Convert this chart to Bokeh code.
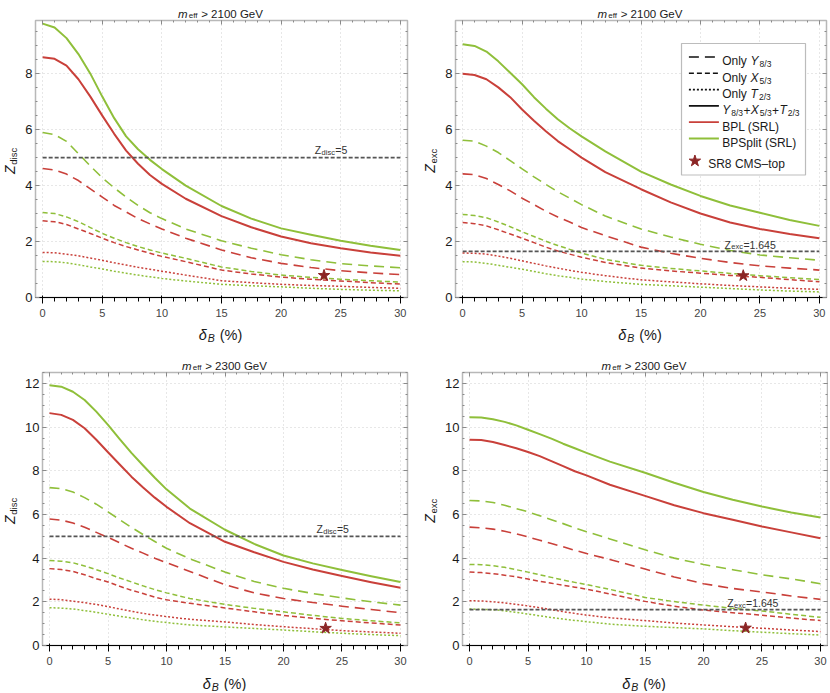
import math
from bokeh.plotting import figure
from bokeh.layouts import row, column
from bokeh.models import (Label, Arrow, BoxAnnotation, LinearAxis, Range1d,
                          SingleIntervalTicker, CustomJSTickFormatter)
from bokeh.embed import file_html
from bokeh.resources import INLINE

# ---------------- data ----------------
delta_B = [0, 1, 2, 3, 4, 5, 6, 7, 8, 9, 10, 12, 15, 17.5, 20, 22.5, 25, 27.5, 30]

# m_eff > 2100 GeV, Z_disc
disc2100_BPL_all = [8.59, 8.53, 8.29, 7.80, 7.18, 6.50, 5.85, 5.25, 4.78, 4.38, 4.06, 3.53, 2.91, 2.51, 2.18, 1.94, 1.76, 1.61, 1.49]
disc2100_BPS_all = [9.79, 9.65, 9.27, 8.70, 8.00, 7.18, 6.41, 5.76, 5.30, 4.92, 4.59, 4.00, 3.27, 2.82, 2.47, 2.24, 2.03, 1.85, 1.70]
disc2100_BPL_Y = [4.61, 4.56, 4.41, 4.18, 3.88, 3.59, 3.29, 3.06, 2.82, 2.63, 2.45, 2.12, 1.70, 1.42, 1.22, 1.07, 0.96, 0.88, 0.82]
disc2100_BPS_Y = [5.90, 5.82, 5.58, 5.14, 4.70, 4.28, 3.92, 3.59, 3.29, 3.03, 2.82, 2.45, 2.03, 1.76, 1.53, 1.35, 1.21, 1.13, 1.06]
disc2100_BPL_X = [2.74, 2.71, 2.61, 2.45, 2.29, 2.12, 1.96, 1.82, 1.70, 1.58, 1.47, 1.28, 0.98, 0.84, 0.73, 0.65, 0.59, 0.53, 0.48]
disc2100_BPS_X = [3.04, 3.00, 2.88, 2.71, 2.50, 2.29, 2.12, 1.96, 1.82, 1.70, 1.59, 1.40, 1.09, 0.93, 0.80, 0.72, 0.65, 0.60, 0.55]
disc2100_BPL_T = [1.61, 1.60, 1.55, 1.49, 1.41, 1.33, 1.24, 1.16, 1.08, 1.01, 0.94, 0.80, 0.60, 0.53, 0.47, 0.43, 0.40, 0.36, 0.33]
disc2100_BPS_T = [1.29, 1.28, 1.24, 1.17, 1.09, 1.02, 0.94, 0.87, 0.80, 0.74, 0.68, 0.59, 0.47, 0.42, 0.38, 0.33, 0.29, 0.26, 0.24]

# m_eff > 2100 GeV, Z_exc
exc2100_BPL_all = [8.00, 7.95, 7.80, 7.51, 7.16, 6.72, 6.32, 5.94, 5.59, 5.30, 5.00, 4.48, 3.87, 3.40, 3.00, 2.68, 2.45, 2.27, 2.12]
exc2100_BPS_all = [9.05, 8.99, 8.79, 8.44, 8.03, 7.62, 7.16, 6.75, 6.37, 6.05, 5.76, 5.22, 4.50, 4.04, 3.63, 3.29, 3.03, 2.77, 2.56]
exc2100_BPL_Y = [4.42, 4.39, 4.25, 4.04, 3.81, 3.55, 3.32, 3.08, 2.88, 2.70, 2.50, 2.21, 1.80, 1.58, 1.40, 1.25, 1.13, 1.05, 0.98]
exc2100_BPS_Y = [5.62, 5.59, 5.41, 5.18, 4.89, 4.60, 4.31, 4.04, 3.78, 3.55, 3.32, 2.91, 2.45, 2.16, 1.90, 1.68, 1.52, 1.42, 1.33]
exc2100_BPL_X = [2.68, 2.64, 2.56, 2.42, 2.27, 2.12, 1.96, 1.80, 1.66, 1.55, 1.44, 1.25, 1.05, 0.95, 0.87, 0.79, 0.72, 0.64, 0.56]
exc2100_BPS_X = [2.97, 2.93, 2.85, 2.70, 2.53, 2.35, 2.18, 2.01, 1.86, 1.72, 1.59, 1.36, 1.15, 1.04, 0.95, 0.86, 0.78, 0.71, 0.64]
exc2100_BPL_T = [1.59, 1.58, 1.55, 1.48, 1.40, 1.31, 1.22, 1.13, 1.05, 0.97, 0.90, 0.78, 0.63, 0.56, 0.49, 0.43, 0.38, 0.33, 0.29]
exc2100_BPS_T = [1.28, 1.27, 1.22, 1.15, 1.08, 1.01, 0.93, 0.85, 0.78, 0.72, 0.66, 0.57, 0.47, 0.42, 0.37, 0.32, 0.27, 0.23, 0.20]

# m_eff > 2300 GeV, Z_disc
disc2300_BPL_all = [10.64, 10.56, 10.33, 9.95, 9.42, 8.85, 8.29, 7.73, 7.23, 6.77, 6.35, 5.60, 4.75, 4.27, 3.83, 3.48, 3.18, 2.90, 2.64]
disc2300_BPS_all = [11.92, 11.85, 11.62, 11.24, 10.71, 10.10, 9.45, 8.82, 8.24, 7.68, 7.15, 6.27, 5.30, 4.65, 4.12, 3.76, 3.46, 3.17, 2.91]
disc2300_BPL_Y = [5.79, 5.74, 5.61, 5.41, 5.18, 4.95, 4.70, 4.45, 4.23, 4.00, 3.79, 3.39, 2.78, 2.41, 2.15, 1.97, 1.80, 1.65, 1.50]
disc2300_BPS_Y = [7.23, 7.18, 7.03, 6.77, 6.47, 6.12, 5.76, 5.41, 5.08, 4.76, 4.45, 3.97, 3.36, 2.93, 2.62, 2.38, 2.18, 2.00, 1.85]
disc2300_BPL_X = [3.52, 3.48, 3.39, 3.24, 3.06, 2.91, 2.71, 2.53, 2.38, 2.21, 2.09, 1.93, 1.72, 1.54, 1.38, 1.25, 1.13, 1.03, 0.94]
disc2300_BPS_X = [3.89, 3.86, 3.79, 3.64, 3.47, 3.29, 3.09, 2.91, 2.73, 2.56, 2.41, 2.15, 1.88, 1.70, 1.54, 1.38, 1.24, 1.13, 1.04]
disc2300_BPL_T = [2.12, 2.10, 2.03, 1.96, 1.88, 1.78, 1.67, 1.57, 1.47, 1.39, 1.32, 1.20, 1.08, 0.96, 0.86, 0.77, 0.68, 0.62, 0.56]
disc2300_BPS_T = [1.73, 1.71, 1.67, 1.60, 1.52, 1.43, 1.34, 1.26, 1.18, 1.11, 1.05, 0.94, 0.85, 0.78, 0.71, 0.63, 0.56, 0.50, 0.45]

# m_eff > 2300 GeV, Z_exc
exc2300_BPL_all = [9.42, 9.41, 9.32, 9.18, 9.03, 8.86, 8.67, 8.44, 8.21, 7.98, 7.79, 7.36, 6.85, 6.42, 6.06, 5.76, 5.45, 5.18, 4.91]
exc2300_BPS_all = [10.45, 10.44, 10.36, 10.24, 10.08, 9.88, 9.68, 9.47, 9.24, 9.03, 8.82, 8.42, 7.91, 7.45, 7.03, 6.67, 6.36, 6.09, 5.86]
exc2300_BPL_Y = [5.42, 5.39, 5.33, 5.23, 5.11, 4.97, 4.82, 4.67, 4.52, 4.36, 4.21, 3.94, 3.50, 3.14, 2.83, 2.61, 2.45, 2.27, 2.11]
exc2300_BPS_Y = [6.64, 6.62, 6.55, 6.42, 6.27, 6.12, 5.94, 5.76, 5.58, 5.39, 5.21, 4.88, 4.38, 4.00, 3.71, 3.47, 3.24, 3.05, 2.83]
exc2300_BPL_X = [3.36, 3.34, 3.29, 3.22, 3.14, 3.04, 2.94, 2.85, 2.76, 2.67, 2.58, 2.36, 2.02, 1.80, 1.62, 1.50, 1.39, 1.26, 1.14]
exc2300_BPS_X = [3.71, 3.70, 3.65, 3.58, 3.47, 3.36, 3.24, 3.12, 3.00, 2.89, 2.79, 2.57, 2.20, 2.01, 1.85, 1.70, 1.58, 1.43, 1.29]
exc2300_BPL_T = [2.05, 2.04, 2.00, 1.95, 1.88, 1.81, 1.73, 1.64, 1.55, 1.47, 1.39, 1.27, 1.14, 1.03, 0.94, 0.86, 0.79, 0.71, 0.64]
exc2300_BPS_T = [1.67, 1.66, 1.64, 1.59, 1.52, 1.44, 1.36, 1.28, 1.21, 1.15, 1.09, 0.98, 0.88, 0.82, 0.76, 0.68, 0.61, 0.54, 0.48]

# SR8 CMS-top point (delta_B %, Z) in each panel
sr8_delta = [23.6]
sr8_disc2100 = [0.79]
sr8_exc2100 = [0.78]
sr8_disc2300 = [0.79]
sr8_exc2300 = [0.80]

Z_DISC_REF = 5.0
Z_EXC_REF = 1.645
mass_cuts = ["2100", "2300"]
x_ticks_step = 5
y_ticks_step = 2

# ---------------- styling ----------------
RED = "#c9403a"
GREEN = "#8fbf3a"
STAR = "#8b2525"
GRAY = "#555555"
TXT = "#1a1a1a"
FONT = "Liberation Sans"
X_RANGE = (-0.6, 30.6)

STYLES = {
    "Y": dict(line_dash="10 6", line_width=1.6),
    "X": dict(line_dash="5 3", line_width=1.5),
    "T": dict(line_dash="2 2", line_width=1.5),
    "all": dict(line_dash="solid", line_width=2.0),
}

W = {' ': .278, '=': .584, '>': .584, '+': .584, '(': .333, ')': .333, '%': .889,
     '/': .278, '.': .278, 'Z': .611, 'd': .556, 'i': .222, 's': .5, 'c': .5,
     'e': .556, 'x': .5, 'f': .278, 'm': .833, 'G': .778, 'V': .667, 'O': .778,
     'n': .556, 'l': .222, 'y': .5, 'Y': .667, 'X': .667, 'T': .611, 'B': .667,
     'P': .667, 'L': .556, 'S': .667, 'R': .722, 'p': .556, 't': .278, 'M': .833,
     'C': .722, 'o': .556, '–': .556, 'δ': .556}
GAP = 0.4


def tw(s, size):
    return sum(W.get(c, .556) for c in s) * size


def parts_width(parts):
    return sum(tw(t, s) + (0.6 if it else 0) + GAP for t, s, it, _ in parts) - GAP


def rich(p, parts, x, y, color=TXT):
    """Place a run of text pieces (screen units, relative to the plot frame)."""
    pos = 0.0
    for text, size, italic, shift in parts:
        lead = len(text) - len(text.lstrip(" "))
        if lead:
            pos += tw(" " * lead, size)
            text = text.lstrip(" ")
        p.add_layout(Label(x=x + pos, y=y + shift, text=text, text_font=FONT,
                           text_font_size=f"{size}px",
                           text_font_style="italic" if italic else "normal",
                           text_color=color, text_align="left",
                           text_baseline="alphabetic",
                           x_units="screen", y_units="screen"))
        pos += tw(text, size) + (0.6 if italic else 0) + GAP


def strip(width, height):
    s = figure(frame_width=width, frame_height=height, output_backend="svg",
               toolbar_location=None,
               x_range=Range1d(0, width), y_range=Range1d(0, height),
               x_axis_type=None, y_axis_type=None, min_border=0,
               min_border_left=0, min_border_right=0, min_border_top=0,
               min_border_bottom=0,
               outline_line_color=None, background_fill_color="white",
               border_fill_color="white")
    return s


def make_panel(width, height, bl, br, bt, bb, ymax, data, zsub, ref_val,
               ref_str, ref_x, star_y, legend=False):
    fw = width - bl - br
    fh = height - bt - bb
    p = figure(width=width, height=height, output_backend="svg", toolbar_location=None,
               x_range=Range1d(*X_RANGE), y_range=Range1d(0, ymax),
               min_border_left=bl, min_border_right=br, min_border_top=bt,
               min_border_bottom=bb, background_fill_color="white",
               border_fill_color="white", outline_line_color="#b8b8b8",
               outline_line_width=1.5)
    xt = SingleIntervalTicker(interval=x_ticks_step, num_minor_ticks=5)
    yt = SingleIntervalTicker(interval=y_ticks_step, num_minor_ticks=4)
    p.xaxis.ticker = xt
    p.yaxis.ticker = yt
    p.xgrid.ticker = xt
    p.ygrid.ticker = yt
    for g in (p.xgrid[0], p.ygrid[0]):
        g.grid_line_color = "#cfcfcf"
        g.grid_line_dash = "1 3"
        g.grid_line_width = 1
    top = LinearAxis(ticker=xt, formatter=CustomJSTickFormatter(code="return ''"))
    right = LinearAxis(ticker=yt, formatter=CustomJSTickFormatter(code="return ''"))
    p.add_layout(top, "above")
    p.add_layout(right, "right")
    for ax in (p.xaxis[0], p.yaxis[0], top, right):
        ax.axis_line_color = None
        ax.major_tick_in = 4
        ax.major_tick_out = 0
        ax.minor_tick_in = 2
        ax.minor_tick_out = 0
        ax.major_tick_line_color = "#8a8a8a"
        ax.minor_tick_line_color = "#8a8a8a"
        ax.major_label_text_font = FONT
        ax.major_label_text_font_size = "13px"
        ax.major_label_text_color = TXT
    for ax in (top, right):
        ax.major_label_standoff = 0
        ax.major_label_text_font_size = "0px"
    p.xaxis[0].major_label_standoff = 4
    p.yaxis[0].major_label_standoff = 3

    # curves
    for ch in ("T", "X", "Y", "all"):
        for bp, col in (("BPS", GREEN), ("BPL", RED)):
            p.line(delta_B, data[bp][ch], line_color=col, line_join="round", **STYLES[ch])

    # reference line and its label (label placed above the line)
    p.line([delta_B[0], delta_B[-1]], [ref_val, ref_val], line_color=GRAY,
           line_width=1.8, line_dash="4 2")
    lsx = (ref_x - X_RANGE[0]) / (X_RANGE[1] - X_RANGE[0]) * fw
    lsy = ref_val / ymax * fh + 6.5
    rich(p, [("Z", 10.5, False, 0), (zsub, 7.5, False, -2.3), ("=" + ref_str, 10.5, False, 0)],
         lsx, lsy, color="#333333")

    # SR8 star
    p.scatter(sr8_delta, star_y, marker="star", size=12, fill_color=STAR,
              line_color=STAR)

    if legend:
        sxR = fw - 23
        sxL = sxR - 124
        syT = fh - 25
        syB = syT - 131.5
        p.add_layout(BoxAnnotation(left=sxL, right=sxR, top=syT, bottom=syB,
                                   left_units="screen", right_units="screen",
                                   top_units="screen", bottom_units="screen",
                                   fill_color="white", fill_alpha=1.0, level="underlay",
                                   line_color="#222222", line_width=1.2))
        rows = [13.5, 29.8, 46.1, 62.4, 78.7, 95.0, 116.5]
        sub = 8.5
        entries = [
            ("#111111", STYLES["Y"]["line_dash"], 1.6,
             [("Only ", 12, False, 0), ("Y", 12, True, 0), ("8/3", sub, False, -3)]),
            ("#111111", STYLES["X"]["line_dash"], 1.6,
             [("Only ", 12, False, 0), ("X", 12, True, 0), ("5/3", sub, False, -3)]),
            ("#111111", STYLES["T"]["line_dash"], 1.6,
             [("Only ", 12, False, 0), ("T", 12, True, 0), ("2/3", sub, False, -3)]),
            ("#111111", "solid", 1.8,
             [("Y", 12, True, 0), ("8/3", sub, False, -3), ("+", 12, False, 0),
              ("X", 12, True, 0), ("5/3", sub, False, -3), ("+", 12, False, 0),
              ("T", 12, True, 0), ("2/3", sub, False, -3)]),
            (RED, "solid", 1.8, [("BPL (SRL)", 12, False, 0)]),
            (GREEN, "solid", 1.8, [("BPSplit (SRL)", 12, False, 0)]),
        ]
        for (col, dash, lw, parts), r in zip(entries, rows):
            sy = syT - r
            p.add_layout(Arrow(x_start=sxL + 7.4, y_start=sy, x_end=sxL + 37.4, y_end=sy,
                               start_units="screen", end_units="screen", start=None, end=None,
                               line_color=col, line_width=lw, line_dash=dash))
            rich(p, parts, sxL + 40.7, sy - 4.3)
        sy = syT - rows[6]
        # legend star: screen offset converted to data coordinates
        lx = X_RANGE[0] + (sxL + 14.7) / fw * (X_RANGE[1] - X_RANGE[0])
        ly = sy / fh * ymax
        p.scatter([lx], [ly], marker="star", size=12, fill_color=STAR, line_color=STAR)
        rich(p, [("SR8 CMS–top", 12, False, 0)], sxL + 26.7, sy - 4.3)
    return p


def pack(prefix):
    g = globals()
    return {bp: {ch: g[f"{prefix}_{bp}_{ch}"] for ch in ("Y", "X", "T", "all")}
            for bp in ("BPL", "BPS")}


# ---------------- layout ----------------
TOTAL_W = 828
YLAB_L, YLAB_R = 22, 27          # widths of the y-label strips
FIG_L_W, FIG_R_W = 393, 386      # widths of the plot figures
ROW1_H, ROW2_H = 300, 296
BORDER_B = 20

# (bl, br) of each panel
bA, bB, bC, bD = (11, 8), (11, 2), (19, 8), (18, 1)

pA = make_panel(FIG_L_W, ROW1_H, bA[0], bA[1], 1, BORDER_B, 9.9, pack("disc2100"), "disc",
                Z_DISC_REF, "5", 22.7, sr8_disc2100)
pB = make_panel(FIG_R_W, ROW1_H, bB[0], bB[1], 1, BORDER_B, 9.9, pack("exc2100"), "exc",
                Z_EXC_REF, "1.645", 21.9, sr8_exc2100, legend=True)
pC = make_panel(FIG_L_W, ROW2_H, bC[0], bC[1], 1, BORDER_B, 12.5, pack("disc2300"), "disc",
                Z_DISC_REF, "5", 22.75, sr8_disc2300)
pD = make_panel(FIG_R_W, ROW2_H, bD[0], bD[1], 1, BORDER_B, 12.5, pack("exc2300"), "exc",
                Z_EXC_REF, "1.645", 21.9, sr8_exc2300)


def frame_center(col_left, fig_w, b):
    return col_left + b[0] + (fig_w - b[0] - b[1]) / 2


left_x0 = YLAB_L
right_x0 = YLAB_L + FIG_L_W + YLAB_R
cA = frame_center(left_x0, FIG_L_W, bA)
cB = frame_center(right_x0, FIG_R_W, bB)
cC = frame_center(left_x0, FIG_L_W, bC)
cD = frame_center(right_x0, FIG_R_W, bD)


def title_parts(mass):
    return [("m", 11.5, True, 0), ("eff", 8, False, -1.8), (" > " + mass + " GeV", 11.5, False, 0)]


XPARTS = [("δ", 14.5, True, 0), ("B", 10.5, True, -3), (" (%)", 14.5, False, 0)]

# title strips
t1 = strip(TOTAL_W, 19)
for c in (cA, cB):
    tp = title_parts(mass_cuts[0])
    rich(t1, tp, c - parts_width(tp) / 2, 5.5)
t2 = strip(TOTAL_W, 28)
for c in (cC, cD):
    tp = title_parts(mass_cuts[1])
    rich(t2, tp, c - parts_width(tp) / 2, 5.5)

# x-label strips
x1 = strip(TOTAL_W, 24)
x2 = strip(TOTAL_W, 24)
for s, cs, yb in ((x1, (cA, cB), 8.5), (x2, (cC, cD), 8)):
    for c in cs:
        rich(s, XPARTS, c - parts_width(XPARTS) / 2, yb)


# y-label strips: rotated "Z" + subscript, each piece centred on its anchor
def ylab_strip(width, height, sub, cx, center_y, z_size=14, sub_size=9.5, sub_dx=3.05):
    s = strip(width, height)
    z_w = tw("Z", z_size) + 0.6
    s_w = tw(sub, sub_size)
    y0 = center_y - (z_w + GAP + s_w) / 2
    common = dict(text_font=FONT, text_color=TXT, text_align="center",
                  text_baseline="middle", angle=math.pi / 2,
                  x_units="screen", y_units="screen")
    s.add_layout(Label(x=cx, y=y0 + z_w / 2, text="Z", text_font_size=f"{z_size}px",
                       text_font_style="italic", **common))
    s.add_layout(Label(x=cx + sub_dx, y=y0 + z_w + GAP + s_w / 2, text=sub,
                       text_font_size=f"{sub_size}px", **common))
    return s


yA = ylab_strip(YLAB_L, ROW1_H, "disc", 9.85, BORDER_B + (ROW1_H - 1 - BORDER_B) / 2)
yB = ylab_strip(YLAB_R, ROW1_H, "exc", 14.65, BORDER_B + (ROW1_H - 1 - BORDER_B) / 2)
yC = ylab_strip(YLAB_L, ROW2_H, "disc", 9.85, BORDER_B + (ROW2_H - 1 - BORDER_B) / 2)
yD = ylab_strip(YLAB_R, ROW2_H, "exc", 14.65, BORDER_B + (ROW2_H - 1 - BORDER_B) / 2)

layout = column(t1, row(yA, pA, yB, pB), x1, t2, row(yC, pC, yD, pD), x2)
open("out.html", "w").write(file_html(layout, INLINE))
